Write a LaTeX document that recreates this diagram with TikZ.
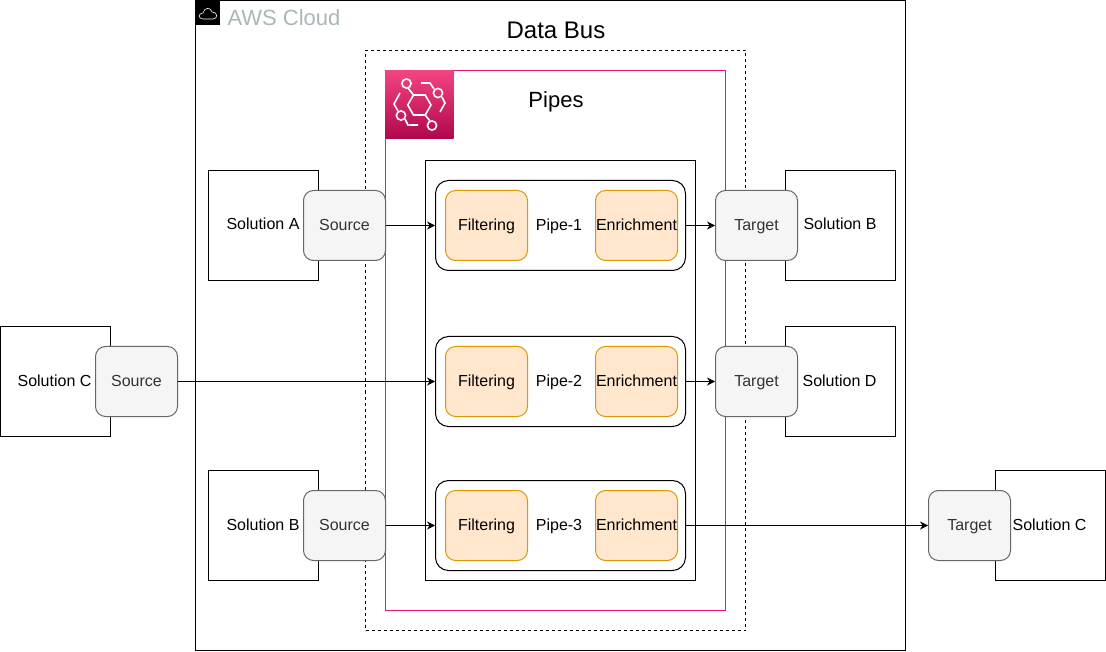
\documentclass[tikz,border=0pt]{standalone}
\usepackage{fontspec}
\setmainfont{Liberation Sans}
\usepackage{xcolor}
\usetikzlibrary{arrows.meta}

\definecolor{cloudgrey}{HTML}{AAB7B8}
\definecolor{pipepink}{HTML}{E7157B}
\definecolor{iconlight}{HTML}{F34482}
\definecolor{icondark}{HTML}{B0084D}
\definecolor{endfill}{HTML}{F5F5F5}
\definecolor{endline}{HTML}{666666}
\definecolor{stepfill}{HTML}{FFE6CC}
\definecolor{stepline}{HTML}{D79B00}

\tikzset{
    lbl/.style={inner sep=0,text height=13,text depth=3,font=\fontsize{16}{18}\selectfont},
    solbox/.style={draw,fill=white,minimum width=110,minimum height=110,inner sep=0},
    endbox/.style={lbl,draw=endline,fill=endfill,text=black!80,rounded corners=10,minimum width=82,minimum height=70},
    stepbox/.style={lbl,draw=stepline,fill=stepfill,rounded corners=10,minimum width=82,minimum height=70},
    pipebox/.style={draw,rounded corners=13,minimum width=250,minimum height=90,inner sep=0},
    flow/.style={-{Stealth[length=8,width=8]},black}
}

\begin{document}
\begin{tikzpicture}[x=1pt,y=-1pt,line width=1]
    \useasboundingbox (0,0) rectangle (1106,652);

    % outer frames
    \node[draw,minimum width=710,minimum height=650,inner sep=0] (cloud) at (550.5,325.5) {};
    \node[fill=black,minimum size=24,inner sep=0] (cloudicon) at (208,13) {};
    \draw[white,line width=0.6] (203,19) .. controls (198,19) and (198,13) .. (203,13)
        .. controls (204,7) and (211,7) .. (212,12) .. controls (218,12) and (218,19) .. (213,19) -- cycle;
    \node[text=cloudgrey,font=\fontsize{22}{24}\selectfont,anchor=west,inner sep=0] (cloudlabel) at (227,18) {AWS Cloud};

    \node[draw,dashed,minimum width=380,minimum height=580,inner sep=0] (bus) at (555.5,340.5) {};
    \node[font=\fontsize{24}{28}\selectfont,inner sep=0] (buslabel) at (556,30) {Data Bus};

    \node[draw=pipepink,minimum width=340,minimum height=540,inner sep=0] (pipes) at (555.5,340.5) {};
    \node[font=\fontsize{22}{24}\selectfont,inner sep=0] (pipeslabel) at (556,102) {Pipes};

    % pipes icon
    \node[top color=iconlight,bottom color=icondark,minimum size=68,inner sep=0] (pipesicon) at (419.5,104.5) {};
    \begin{scope}[white,line width=1.6]
        \draw (408,88) -- (413.5,95) (425.2,115) -- (430,121);
        \draw (431,105) -- (425.2,95) -- (413.5,95) -- (407.7,105) -- (413.5,115) -- (425.2,115) -- cycle;
        \draw (406.5,83.5) circle (4.6);
        \draw (438,93) circle (4.6);
        \draw (401,115.5) circle (4.6);
        \draw (432,125.5) circle (4.6);
        \draw (421,83) -- (430,83) -- (434,89);
        \draw (442,97) -- (445,103) -- (440,112);
        \draw (400,93) -- (394,104) -- (398,111);
        \draw (405,119) -- (408,125) -- (418,125);
    \end{scope}

    \node[draw,minimum width=270,minimum height=420,inner sep=0] (inner) at (560.5,370.5) {};

    % solution boxes
    \node[solbox] (solA) at (263.5,225.5) {};
    \node[solbox] (solB) at (840.5,225.5) {};
    \node[solbox] (solC) at (55.5,381.5) {};
    \node[solbox] (solD) at (840.5,381.5) {};
    \node[solbox] (solE) at (263.5,525.5) {};
    \node[solbox] (solF) at (1050.5,525.5) {};

    \node[lbl] (solAlabel) at (263,225) {Solution A};
    \node[lbl] (solBlabel) at (840,225) {Solution B};
    \node[lbl] (solClabel) at (54.5,381) {Solution C};
    \node[lbl] (solDlabel) at (839.5,381) {Solution D};
    \node[lbl] (solElabel) at (263,525) {Solution B};
    \node[lbl] (solFlabel) at (1049.5,525) {Solution C};

    % pipes
    \foreach \n/\y in {1/225.5,2/381.5,3/525.5} {
        \node[pipebox] (pipe\n) at (560.5,\y) {};
        \node[stepbox] (filter\n) at (486.5,\y) {Filtering};
        \node[stepbox] (enrich\n) at (636.5,\y) {Enrichment};
        \node[lbl] (pipelabel\n) at (559,\y) {Pipe-\n};
    }

    % sources and targets
    \node[endbox] (src1) at (344.5,225.5) {Source};
    \node[endbox] (src2) at (136.5,381.5) {Source};
    \node[endbox] (src3) at (344.5,525.5) {Source};
    \node[endbox] (tgt1) at (756.5,225.5) {Target};
    \node[endbox] (tgt2) at (756.5,381.5) {Target};
    \node[endbox] (tgt3) at (969.5,525.5) {Target};

    % connections
    \foreach \n in {1,2,3} {
        \draw[flow] (src\n) -- (pipe\n);
        \draw[flow] (pipe\n) -- (tgt\n);
    }

\end{tikzpicture}
\end{document}
